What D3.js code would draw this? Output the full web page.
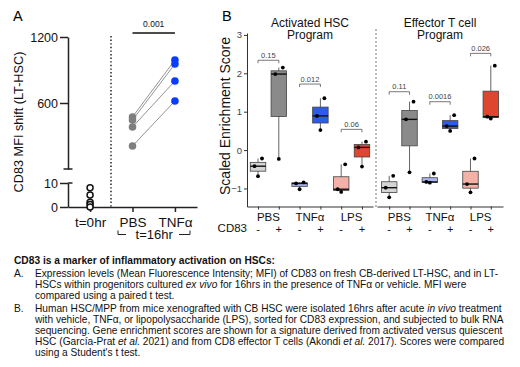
<!DOCTYPE html>
<html>
<head>
<meta charset="utf-8">
<script src="https://cdn.jsdelivr.net/npm/d3@7"></script>
<style>
  body { margin: 0; background: #fff; }
  svg { display: block; font-family: "Liberation Sans", Arial, sans-serif; }
</style>
</head>
<body>
<svg width="520" height="367"></svg>
<script>
// ---- data: panel A ----
const groupsA = ["t=0hr", "PBS", "TNFα"];
const baselineMFI = [8, 5, 2, 1, 0];
const pbsMFI = [473, 445, 382, 209];
const tnfMFI = [991, 955, 800, 618];
const pValueA = "0.001";

// ---- data: panel B ----
const treatments = ["PBS", "TNFα", "LPS"];
const cd83States = ["-", "+"];
const hscTitle = ["Activated HSC", "Program"];
const tcellTitle = ["Effector T cell", "Program"];
// 3 samples per box, order: PBS-, PBS+, TNFα-, TNFα+, LPS-, LPS+
const hscScores = [
  [-0.68, -0.42, -0.22], [-0.23, 1.98, 2.15],
  [-1.02, -0.87, -0.84], [0.52, 0.89, 1.35],
  [-1.09, -1.02, -0.37], [-0.43, 0.07, 0.22]
];
const tcellScores = [
  [-1.23, -0.98, -0.67], [-0.58, 0.80, 1.26],
  [-0.85, -0.83, -0.61], [0.50, 0.625, 0.91],
  [-1.10, -0.885, -0.22], [0.82, 0.87, 2.2]
];
const hscP = ["0.15", "0.012", "0.06"];
const tcellP = ["0.11", "0.0016", "0.026"];
const hscBracket = [2.34, 1.72, 0.54];
const tcellBracket = [1.52, 1.26, 2.52];
const yTicksB = [-1, 0, 1, 2, 3];

const boxFill = ["#d4d4d4", "#8a8a8a", "#aab4f0", "#2f5ce6", "#f3b1a7", "#df4630"];

const svg = d3.select("svg");

// =================== panel A ===================
const gA = svg.append("g");

gA.append("text").attr("x", 13).attr("y", 21)
  .attr("font-size", 14.5).text("A");

const yUpper = d3.scaleLinear().domain([0, 1200]).range([169, 37]);
const yLower = d3.scaleLinear().domain([0, 10]).range([207, 183]);
const xA = d3.scalePoint().domain(groupsA).range([68, 197]).padding(0.52);

const styleAxisA = (g) => {
  g.selectAll("path, line").attr("stroke", "#222").attr("stroke-width", 1.5);
  g.selectAll("text").attr("fill", "#111")
    .attr("font-family", "Liberation Sans, Arial, sans-serif");
};

gA.append("g")
  .attr("transform", "translate(68,0)")
  .call(d3.axisLeft(yUpper).tickValues([600, 1200]).tickFormat(d3.format("d"))
    .tickSize(8).tickSizeOuter(0).tickPadding(2))
  .call(styleAxisA)
  .selectAll("text").attr("font-size", 12.5);

gA.append("g")
  .attr("transform", "translate(68,0)")
  .call(d3.axisLeft(yLower).tickValues([0, 10]).tickSize(8).tickSizeOuter(0).tickPadding(2))
  .call(styleAxisA)
  .selectAll("text").attr("font-size", 12.5);

// caps at the axis break
gA.append("line").attr("x1", 63.5).attr("x2", 72.5)
  .attr("y1", yUpper(0)).attr("y2", yUpper(0))
  .attr("stroke", "#222").attr("stroke-width", 1.5);
gA.append("line").attr("x1", 68).attr("x2", 72.5)
  .attr("y1", yLower(10)).attr("y2", yLower(10))
  .attr("stroke", "#222").attr("stroke-width", 1.5);

gA.append("g")
  .attr("transform", "translate(0,207)")
  .call(d3.axisBottom(xA).tickSize(5).tickSizeOuter(0).tickPadding(5))
  .call(styleAxisA)
  .selectAll("text").attr("font-size", 13.5);

gA.append("text")
  .attr("transform", "translate(23,122) rotate(-90)")
  .attr("text-anchor", "middle").attr("font-size", 12.7).attr("fill", "#111")
  .text("CD83 MFI shift (LT-HSC)");

// dotted separator
gA.append("line").attr("x1", 111).attr("x2", 111).attr("y1", 36).attr("y2", 207)
  .attr("stroke", "#111").attr("stroke-width", 1.4).attr("stroke-dasharray", "1.4,2.2");

// t=16hr bracket
const midA = (xA("PBS") + xA("TNFα")) / 2;
gA.append("text").attr("x", midA + 0.5).attr("y", 239)
  .attr("text-anchor", "middle").attr("font-size", 13).attr("fill", "#111").text("t=16hr");
gA.append("path")
  .attr("d", `M118,230.5V234.5H126 M179,234.5H190V230.5`)
  .attr("fill", "none").attr("stroke", "#222").attr("stroke-width", 1);

// significance
gA.append("line").attr("x1", xA("PBS")).attr("x2", xA("TNFα")).attr("y1", 33).attr("y2", 33)
  .attr("stroke", "#111").attr("stroke-width", 1.5);
gA.append("text").attr("x", midA).attr("y", 27)
  .attr("text-anchor", "middle").attr("font-size", 8.5).attr("fill", "#111").text(pValueA);

// paired lines
gA.selectAll("line.pair")
  .data(d3.zip(pbsMFI, tnfMFI))
  .join("line").attr("class", "pair")
  .attr("x1", xA("PBS")).attr("x2", xA("TNFα"))
  .attr("y1", (d) => yUpper(d[0])).attr("y2", (d) => yUpper(d[1]))
  .attr("stroke", "#777").attr("stroke-width", 0.8);

gA.selectAll("circle.pbs")
  .data(pbsMFI).join("circle").attr("class", "pbs")
  .attr("cx", xA("PBS")).attr("cy", (d) => yUpper(d)).attr("r", 3.8)
  .attr("fill", "#7f7f7f");

gA.selectAll("circle.tnf")
  .data(tnfMFI).join("circle").attr("class", "tnf")
  .attr("cx", xA("TNFα")).attr("cy", (d) => yUpper(d)).attr("r", 3.8)
  .attr("fill", "#0a3cff");

gA.selectAll("circle.base")
  .data(baselineMFI).join("circle").attr("class", "base")
  .attr("cx", xA("t=0hr")).attr("cy", (d) => yLower(d)).attr("r", 3)
  .attr("fill", "#fff").attr("stroke", "#111").attr("stroke-width", 1.5);

// =================== panel B ===================
const gB = svg.append("g");

gB.append("text").attr("x", 222).attr("y", 21)
  .attr("font-size", 14.5).text("B");

const yB = d3.scaleLinear().domain([-1.47, 3.05]).range([206.5, 33]);
const boxKeys = treatments.flatMap((t) => cd83States.map((c) => t + c));

gB.append("g")
  .attr("transform", "translate(247,0)")
  .call(d3.axisLeft(yB).tickValues(yTicksB).tickFormat(d3.format("d"))
    .tickSize(3).tickSizeOuter(0).tickPadding(2))
  .call((g) => {
    g.select(".domain").attr("stroke", "#333");
    g.selectAll("line").attr("stroke", "#333");
    g.selectAll("text").attr("fill", "#444").attr("font-size", 9.5)
      .attr("font-family", "Liberation Sans, Arial, sans-serif");
  });

gB.append("text")
  .attr("transform", "translate(230,116) rotate(-90)")
  .attr("text-anchor", "middle").attr("font-size", 14).attr("fill", "#111")
  .text("Scaled Enrichment Score");

gB.append("text").attr("x", 247).attr("y", 232)
  .attr("text-anchor", "end").attr("font-size", 11.5).attr("fill", "#111").text("CD83");

gB.append("line").attr("x1", 376).attr("x2", 376).attr("y1", 29).attr("y2", 207)
  .attr("stroke", "#777").attr("stroke-width", 1).attr("stroke-dasharray", "2,2");

const jitter = [0, -3.5, 4];

function drawProgram(range, pad, title, scores, pvals, brackets) {
  const x = d3.scalePoint().domain(boxKeys).range(range).padding(pad);
  const g = gB.append("g");
  const cx = (range[0] + range[1]) / 2;

  g.selectAll("text.title").data(title).join("text").attr("class", "title")
    .attr("x", cx).attr("y", (d, i) => 26.5 + i * 12.5)
    .attr("text-anchor", "middle").attr("font-size", 12).attr("fill", "#111")
    .text((d) => d);

  g.append("g")
    .attr("transform", "translate(0,206.5)")
    .call(d3.axisBottom(x).tickSize(3).tickSizeOuter(0).tickFormat(""))
    .call((a) => a.selectAll("path, line").attr("stroke", "#333"));

  treatments.forEach((t) => {
    g.append("text")
      .attr("x", (x(t + "-") + x(t + "+")) / 2).attr("y", 220.5)
      .attr("text-anchor", "middle").attr("font-size", 11.5).attr("fill", "#111").text(t);
  });
  boxKeys.forEach((k) => {
    g.append("text").attr("x", x(k)).attr("y", 232.5)
      .attr("text-anchor", "middle").attr("font-size", 11).attr("fill", "#111")
      .text(k.slice(-1));
  });

  const w = 15.5;
  boxKeys.forEach((k, i) => {
    const v = scores[i].slice().sort(d3.ascending);
    const q1 = d3.quantile(v, 0.25), med = d3.quantile(v, 0.5), q3 = d3.quantile(v, 0.75);
    const c = x(k);
    g.append("line").attr("x1", c).attr("x2", c)
      .attr("y1", yB(v[0])).attr("y2", yB(v[v.length - 1]))
      .attr("stroke", "#555").attr("stroke-width", 0.9);
    g.append("rect").attr("x", c - w / 2).attr("width", w)
      .attr("y", yB(q3)).attr("height", yB(q1) - yB(q3))
      .attr("fill", boxFill[i]).attr("stroke", "#444").attr("stroke-width", 0.8);
    g.append("line").attr("x1", c - w / 2).attr("x2", c + w / 2)
      .attr("y1", yB(med)).attr("y2", yB(med))
      .attr("stroke", "#111").attr("stroke-width", 1.4);
    g.selectAll(null).data(v).join("circle")
      .attr("cx", (d, j) => c + jitter[j]).attr("cy", (d) => yB(d)).attr("r", 1.9)
      .attr("fill", "#000");
  });

  treatments.forEach((t, i) => {
    const x1 = x(t + "-"), x2 = x(t + "+"), y = yB(brackets[i]);
    g.append("path").attr("d", `M${x1},${y + 3}V${y}H${x2}V${y + 3}`)
      .attr("fill", "none").attr("stroke", "#555").attr("stroke-width", 0.8);
    g.append("text").attr("x", (x1 + x2) / 2).attr("y", y - 2.5)
      .attr("text-anchor", "middle").attr("font-size", 7.5).attr("fill", "#444").text(pvals[i]);
  });
}

drawProgram([247, 373], 0.53, hscTitle, hscScores, hscP, hscBracket);
drawProgram([377, 503], 0.6, tcellTitle, tcellScores, tcellP, tcellBracket);

// =================== caption ===================
const captionTitle = "CD83 is a marker of inflammatory activation on HSCs:";
const captionMarkers = ["A.", "B."];
const captionLines = [
  [[0, "Expression levels (Mean Fluorescence Intensity; MFI) of CD83 on fresh CB-derived LT-HSC, and in LT-"]],
  [[0, "HSCs within progenitors cultured "], [1, "ex vivo"], [0, " for 16hrs in the presence of TNFα or vehicle. MFI were"]],
  [[0, "compared using a paired t test."]],
  [[0, "Human HSC/MPP from mice xenografted with CB HSC were isolated 16hrs after acute "], [1, "in vivo"], [0, " treatment"]],
  [[0, "with vehicle, TNFα, or lipopolysaccharide (LPS), sorted for CD83 expression, and subjected to bulk RNA"]],
  [[0, "sequencing. Gene enrichment scores are shown for a signature derived from activated versus quiescent"]],
  [[0, "HSC (García-Prat "], [1, "et al."], [0, " 2021) and from CD8 effector T cells (Akondi "], [1, "et al."], [0, " 2017). Scores were compared"]],
  [[0, "using a Student's t test."]]
];
const lineY = [277, 288, 299, 311.5, 322.5, 333.5, 344.5, 355.5];

const cap = svg.append("g").attr("font-size", 10).attr("fill", "#111");
const capTitle = cap.append("text").attr("x", 14).attr("y", 264)
  .attr("font-weight", "bold").text(captionTitle);
cap.append("text").attr("x", 14).attr("y", lineY[0]).text(captionMarkers[0]);
cap.append("text").attr("x", 14).attr("y", lineY[3]).text(captionMarkers[1]);
const capLines = captionLines.map((segs, i) => {
  const t = cap.append("text").attr("x", 35).attr("y", lineY[i]);
  segs.forEach(([it, s]) => {
    t.append("tspan").attr("font-style", it ? "italic" : null).text(s);
  });
  return t;
});

// fit the caption font so the first line spans the same width as the figure (35 -> 499)
const firstW = capLines[0].node().getComputedTextLength();
const capSize = 10 * 464 / firstW;
cap.attr("font-size", capSize);
const titleW = capTitle.node().getComputedTextLength();
capTitle.attr("font-size", capSize * 261 / titleW);
</script>
</body>
</html>
